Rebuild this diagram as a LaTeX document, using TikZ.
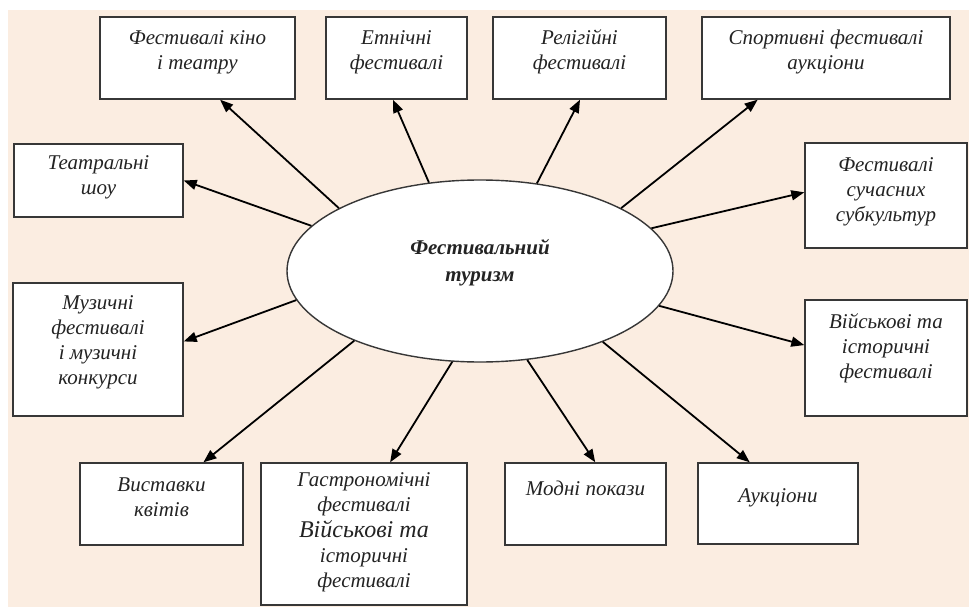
\documentclass[tikz,border=0pt]{standalone}
\usepackage{fontspec}
\setmainfont{Liberation Serif}
\usetikzlibrary{shapes.geometric,arrows.meta,calc}
\definecolor{bgpeach}{RGB}{251,237,225}
\definecolor{edgegray}{RGB}{55,55,55}
\definecolor{ink}{RGB}{35,35,35}
\begin{document}
\begin{tikzpicture}[x=1pt,y=-1pt,
  box/.style={draw=edgegray, line width=1.4pt, fill=white, inner sep=0pt},
  lbl/.style={align=center, font=\fontsize{21}{25}\selectfont\itshape, text=ink, inner sep=0pt},
  hub/.style={ellipse, draw=edgegray, line width=1.4pt, fill=white, inner sep=0pt,
              minimum width=386pt, minimum height=182pt},
  arr/.style={draw=black, line width=1.8pt, -{Triangle[length=13pt,width=10pt]}}]
\useasboundingbox (0,0) rectangle (969,607);
\fill[white] (0,0) rectangle (969,607);
\fill[bgpeach] (8,10) rectangle (969,607);

% centre ellipse
\node[hub] (c) at (480,271) {};
\node[lbl, font=\fontsize{21}{27}\selectfont\bfseries\itshape] (ct) at (480,263) {Фестивальний\\туризм};

% boxes
\node[box, minimum width=195pt, minimum height=82pt] (kino) at (197.5,58) {};
\node[box, minimum width=141pt, minimum height=82pt] (etn) at (396.5,58) {};
\node[box, minimum width=173pt, minimum height=82pt] (rel) at (579.5,58) {};
\node[box, minimum width=248pt, minimum height=82pt] (sport) at (826,58) {};
\node[box, minimum width=169pt, minimum height=73pt] (teatr) at (98.5,180.5) {};
\node[box, minimum width=162pt, minimum height=105pt] (subk) at (886,195.5) {};
\node[box, minimum width=170pt, minimum height=133pt] (muz) at (98,349.5) {};
\node[box, minimum width=162pt, minimum height=116pt] (viysk) at (886,358) {};
\node[box, minimum width=163pt, minimum height=82pt] (vyst) at (161.5,504) {};
\node[box, minimum width=206pt, minimum height=142pt] (gastro) at (364,534) {};
\node[box, minimum width=161pt, minimum height=82pt] (modni) at (585.5,504) {};
\node[box, minimum width=160pt, minimum height=81pt] (auk) at (778,503.5) {};

% labels
\node[lbl] (tkino) at (197.5,52) {Фестивалі кіно\\і театру};
\node[lbl] (tetn) at (396.5,52) {Етнічні\\фестивалі};
\node[lbl] (trel) at (579.5,52) {Релігійні\\фестивалі};
\node[lbl] (tsport) at (826,52) {Спортивні фестивалі\\аукціони};
\node[lbl] (tteatr) at (98.5,177) {Театральні\\шоу};
\node[lbl] (tsubk) at (886,192) {Фестивалі\\сучасних\\субкультур};
\node[lbl] (tmuz) at (98,342) {Музичні\\фестивалі\\і музичні\\конкурси};
\node[lbl] (tviysk) at (886,348) {Військові та\\історичні\\фестивалі};
\node[lbl] (tvyst) at (161.5,497) {Виставки\\квітів};
\node[lbl] (tgastro) at (364,532) {Гастрономічні\\фестивалі\\[1pt]\fontsize{24}{25}\selectfont Військові та\\історичні\\фестивалі};
\node[lbl] (tmodni) at (585.5,488) {Модні покази};
\node[lbl] (tauk) at (778,498) {Аукціони};

% connectors
\draw[arr] (c.156) -- ($(kino.south west)!0.615!(kino.south east)$);
\draw[arr] (c.120) -- ($(etn.south west)!0.475!(etn.south east)$);
\draw[arr] (c.57) -- ($(rel.south west)!0.503!(rel.south east)$);
\draw[arr] (c.24) -- ($(sport.south west)!0.226!(sport.south east)$);
\draw[arr] (c.165) -- (teatr.east);
\draw[arr] (c.14) -- ($(subk.north west)!0.47!(subk.south west)$);
\draw[arr] (c.189) -- ($(muz.north east)!0.44!(muz.south east)$);
\draw[arr] (c.349) -- ($(viysk.north west)!0.39!(viysk.south west)$);
\draw[arr] (c.209) -- ($(vyst.north west)!0.755!(vyst.north east)$);
\draw[arr] (c.253) -- ($(gastro.north west)!0.626!(gastro.north east)$);
\draw[arr] (c.298) -- ($(modni.north west)!0.56!(modni.north east)$);
\draw[arr] (c.330) -- ($(auk.north west)!0.325!(auk.north east)$);
\end{tikzpicture}
\end{document}
